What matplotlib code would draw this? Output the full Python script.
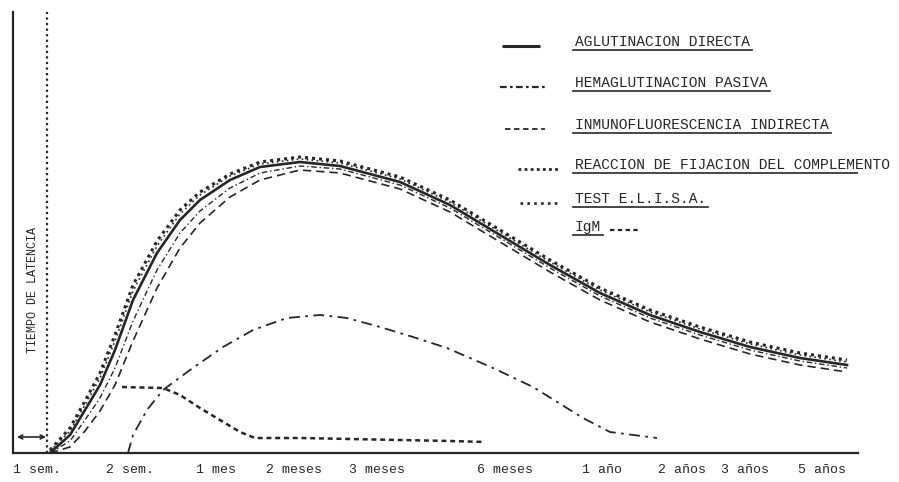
import numpy as np
import matplotlib.pyplot as plt

# coordinates: x = position along the time axis (px),
# y = height above the baseline (px)
tick_pos = [37, 130, 216, 294, 377, 505, 602, 682, 745, 822]
tick_lab = ["1 sem.", "2 sem.", "1 mes", "2 meses", "3 meses", "6 meses",
            "1 año", "2 años", "3 años", "5 años"]

x_main = [50, 70, 85, 100, 115, 133, 157, 180, 200, 230, 260, 300, 340,
          400, 450, 500, 550, 600, 650, 700, 750, 800, 847]
aglut = [0, 18, 43, 68, 103, 153, 200, 233, 253, 273, 286, 291, 287,
         271, 248, 218, 188, 160, 138, 121, 106, 95, 88]
elisa = [3, 25, 52, 80, 118, 168, 212, 243, 261, 279, 291, 296, 292,
         276, 253, 223, 193, 165, 143, 126, 111, 100, 93]
fijac = [2, 22, 48, 75, 112, 162, 207, 239, 258, 277, 289, 294, 290,
         274, 251, 221, 191, 163, 141, 124, 109, 98, 91]
hemag = [0, 12, 33, 55, 85, 132, 183, 220, 242, 265, 280, 287, 284,
         268, 245, 215, 185, 157, 135, 118, 103, 92, 85]
inmuno = [0, 6, 22, 42, 68, 112, 165, 205, 230, 256, 273, 283, 280,
          264, 241, 211, 181, 153, 131, 114, 99, 88, 81]

x_igm = [122, 163, 180, 200, 220, 240, 255, 300, 350, 400, 450, 485]
igm = [66, 65, 58, 45, 33, 21, 15, 15, 14, 13, 12, 11]

x_igg = [128, 133, 147, 163, 190, 223, 253, 287, 320, 347, 380, 413,
         447, 493, 533, 583, 610, 657]
igg = [0, 18, 43, 63, 83, 106, 123, 135, 138, 135, 126, 116,
       105, 85, 66, 35, 21, 15]

ink = "#262626"
font = "Liberation Mono"

fig = plt.figure(figsize=(8.99, 4.82), dpi=100)
ax = fig.add_axes([13 / 899, 29 / 482, 845 / 899, 441 / 482])
ax.set_xlim(13, 858)
ax.set_ylim(0, 441)

ax.plot(x_main, inmuno, color=ink, lw=1.2, ls=(0, (5, 3)))
ax.plot(x_main, hemag, color=ink, lw=1.0, ls=(0, (4, 2, 1, 2)))
ax.plot(x_main, aglut, color=ink, lw=1.9)
ax.plot(x_main, fijac, color=ink, lw=1.2, ls=(0, (1, 2)))
ax.plot(x_main, elisa, color=ink, lw=2.2, ls=(0, (1, 1.3)))

ax.plot(x_igm, igm, color=ink, lw=1.8, ls=(0, (2, 1.5)))
ax.plot(x_igg, igg, color=ink, lw=1.3, ls=(0, (6, 3, 1.5, 3)))

# latency period
ax.plot([47, 47], [0, 441], color=ink, lw=1.6, ls=(0, (1, 1.5)))
ax.annotate("", xy=(17, 16), xytext=(46, 16),
            arrowprops=dict(arrowstyle="<->", color=ink, lw=1.2,
                            shrinkA=0, shrinkB=0, mutation_scale=7))
ax.text(33, 163, "TIEMPO DE LATENCIA", rotation=90, ha="center",
        va="center", fontsize=8.5, family=font, color=ink)

# legend drawn by hand like the original
leg = [("AGLUTINACION DIRECTA", 411, (0, ()), 2.2, 502, 540),
       ("HEMAGLUTINACION PASIVA", 370, (0, (3, 1.5, 1.2, 1.5)), 1.6, 500, 547),
       ("INMUNOFLUORESCENCIA INDIRECTA", 328, (0, (3, 2)), 1.3, 505, 545),
       ("REACCION DE FIJACION DEL COMPLEMENTO", 288, (0, (1, 1.2)), 2.0, 518, 558),
       ("TEST E.L.I.S.A.", 254, (0, (1, 1.6)), 1.9, 520, 558)]
texts = []
for lab, y, ls, lw, x0, x1 in leg:
    ax.plot([x0, x1], [y - 4, y - 4], color=ink, lw=lw, ls=ls)
    texts.append(ax.text(575, y, lab, fontsize=10.5, family=font,
                         color=ink, va="center"))
texts.append(ax.text(575, 226, "IgM", fontsize=10.5, family=font,
                     color=ink, va="center"))
ax.plot([610, 640], [223, 223], color=ink, lw=1.6, ls=(0, (2, 1.5)))

fig.canvas.draw()
r = fig.canvas.get_renderer()
inv = ax.transData.inverted()
for t in texts:
    bb = t.get_window_extent(r)
    (xa, ya), (xb, yb) = inv.transform([(bb.x0, bb.y0), (bb.x1, bb.y1)])
    ax.plot([xa - 2, xb + 2], [ya - 1, ya - 1], color=ink, lw=1.2)

for s in ["top", "right"]:
    ax.spines[s].set_visible(False)
for s in ["left", "bottom"]:
    ax.spines[s].set_linewidth(1.6)
    ax.spines[s].set_color(ink)
ax.set_yticks([])
ax.set_xticks(tick_pos)
ax.set_xticklabels(tick_lab, family=font, fontsize=9.5, color=ink)
ax.tick_params(axis="x", length=0, pad=8)

fig.savefig("out.png", dpi=100)
